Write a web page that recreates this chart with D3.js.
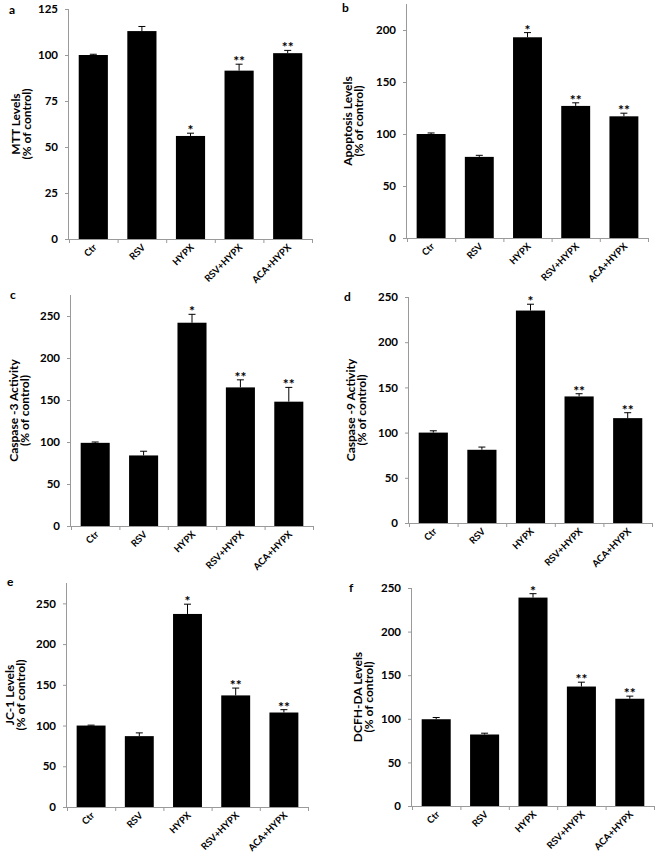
<!DOCTYPE html>
<html>
<head>
<meta charset="utf-8">
<script src="https://cdn.jsdelivr.net/npm/d3@7"></script>
<style>
  body { margin: 0; background: #fff; }
  svg text { font-family: Lato, "Open Sans", sans-serif; font-weight: bold; }
</style>
</head>
<body>
<div id="chart"></div>
<script>
// groups on the x axis, same for all six panels
let categories = ["Ctr", "RSV", "HYPX", "RSV+HYPX", "ACA+HYPX"]
let sigMarks = ["", "", "*", "**", "**"]

// a - MTT
let mttMean = [100, 113, 56, 91.5, 101]
let mttErr = [0.4, 2.5, 1.5, 3.5, 1.5]
// b - apoptosis
let apoMean = [100, 78, 193, 127, 117]
let apoErr = [1, 1.5, 4.5, 3, 3]
// c - caspase-3
let casp3Mean = [99, 84, 242, 165, 148]
let casp3Err = [1, 5, 10, 9, 17]
// d - caspase-9
let casp9Mean = [100, 81, 235, 140, 116]
let casp9Err = [2, 3, 7, 3, 6]
// e - JC-1
let jc1Mean = [100, 87, 237, 137, 116]
let jc1Err = [0.5, 4, 12, 9, 3.5]
// f - DCFH-DA
let dcfhMean = [99.5, 82, 239, 137, 123]
let dcfhErr = [2, 1.5, 4.5, 5, 3]

// y axes
let mttTicks = [0, 25, 50, 75, 100, 125]
let apoTicks = [0, 50, 100, 150, 200]
let casTicks = [0, 50, 100, 150, 200, 250]

let width = 655
let height = 853

let svg = d3.select("#chart")
  .append("svg")
  .attr("width", width)
  .attr("height", height)

// panel layout: axis box in pixels
let panels = [
  {letter: "a", mean: mttMean, err: mttErr, yMax: 125, ticks: mttTicks, label: "MTT  Levels",
   left: 69, right: 312, top: 9, bottom: 239, lx: 9, ly: 14, off: 54},
  {letter: "b", mean: apoMean, err: apoErr, yMax: 225, ticks: apoTicks, label: "Apoptosis  Levels",
   left: 407, right: 648, top: 4, bottom: 238, lx: 342, ly: 12, off: 60},
  {letter: "c", mean: casp3Mean, err: casp3Err, yMax: 275, ticks: casTicks, label: "Caspase -3 Activity",
   left: 71, right: 313, top: 295, bottom: 526, lx: 10, ly: 299, off: 58},
  {letter: "d", mean: casp9Mean, err: casp9Err, yMax: 250, ticks: casTicks, label: "Caspase -9 Activity",
   left: 409, right: 652, top: 297, bottom: 523, lx: 344, ly: 301, off: 59},
  {letter: "e", mean: jc1Mean, err: jc1Err, yMax: 275, ticks: casTicks, label: "JC-1 Levels",
   left: 67, right: 308, top: 583, bottom: 807, lx: 7, ly: 586, off: 58},
  {letter: "f", mean: dcfhMean, err: dcfhErr, yMax: 250, ticks: casTicks, label: "DCFH-DA  Levels",
   left: 412, right: 654, top: 588, bottom: 806, lx: 349, ly: 592, off: 55}
]

panels.forEach(p => {
  let g = svg.append("g")

  let xScale = d3.scaleBand()
                 .domain(categories)
                 .range([p.left, p.right])
                 .paddingInner(0.4)
                 .paddingOuter(0.2)

  let yScale = d3.scaleLinear()
                 .domain([0, p.yMax])
                 .range([p.bottom, p.top])

  // boundary ticks for the x axis
  let edgeScale = d3.scaleLinear()
                    .domain([0, categories.length])
                    .range([p.left, p.right])

  let rows = categories.map((c, i) => ({cat: c, v: p.mean[i], e: p.err[i], s: sigMarks[i]}))
  let mid = d => xScale(d.cat) + xScale.bandwidth() / 2

  // bars
  g.selectAll("rect.bar")
    .data(rows)
    .enter()
    .append("rect")
    .attr("class", "bar")
    .attr("x", d => xScale(d.cat))
    .attr("y", d => yScale(d.v))
    .attr("width", xScale.bandwidth())
    .attr("height", d => yScale(0) - yScale(d.v))
    .attr("fill", "#000")

  // error bars (upper half)
  g.selectAll("line.err")
    .data(rows)
    .enter()
    .append("line")
    .attr("x1", mid)
    .attr("x2", mid)
    .attr("y1", d => yScale(d.v))
    .attr("y2", d => yScale(d.v + d.e))
    .attr("stroke", "#000")
    .attr("stroke-width", 1)

  g.selectAll("line.cap")
    .data(rows)
    .enter()
    .append("line")
    .attr("x1", d => mid(d) - 3.5)
    .attr("x2", d => mid(d) + 3.5)
    .attr("y1", d => yScale(d.v + d.e))
    .attr("y2", d => yScale(d.v + d.e))
    .attr("stroke", "#000")
    .attr("stroke-width", 1)

  // significance stars
  g.selectAll("text.sig")
    .data(rows.filter(d => d.s))
    .enter()
    .append("text")
    .attr("x", mid)
    .attr("y", d => yScale(d.v + d.e) + 2)
    .attr("text-anchor", "middle")
    .attr("font-size", 14)
    .text(d => d.s)

  // y axis
  let yAxis = d3.axisLeft(yScale)
                .tickValues(p.ticks)
                .tickSize(4)
                .tickPadding(7)
  let ya = g.append("g")
    .attr("transform", `translate(${p.left},0)`)
    .call(yAxis)
  ya.select(".domain").attr("d", `M-0.5,${p.top}V${p.bottom}`)

  // x axis: ticks at group boundaries, labels at centres
  let xEdge = d3.axisBottom(edgeScale)
                .ticks(categories.length)
                .tickSize(4)
                .tickFormat("")
  g.append("g")
    .attr("transform", `translate(0,${p.bottom})`)
    .call(xEdge)

  let xAxis = d3.axisBottom(xScale).tickSize(0).tickPadding(0)
  let xa = g.append("g")
    .attr("transform", `translate(0,${p.bottom})`)
    .call(xAxis)
  xa.select(".domain").remove()
  xa.selectAll("text")
    .attr("font-size", 9.5)
    .attr("text-anchor", "end")
    .attr("dy", 0)
    .attr("transform", "translate(4,9) rotate(-45)")

  g.selectAll(".domain, .tick line")
    .attr("stroke", "#9a9a9a")
  ya.selectAll("text")
    .attr("font-size", 11.5)
    .attr("fill", "#000")

  // y label, two lines
  let cy = (p.top + p.bottom) / 2
  g.append("text")
    .attr("transform", `translate(${p.left - p.off},${cy}) rotate(-90)`)
    .attr("text-anchor", "middle")
    .attr("dominant-baseline", "central")
    .attr("font-size", 12)
    .text(p.label)
  g.append("text")
    .attr("transform", `translate(${p.left - p.off + 11},${cy}) rotate(-90)`)
    .attr("text-anchor", "middle")
    .attr("dominant-baseline", "central")
    .attr("font-size", 12)
    .text("(% of control)")

  // panel letter
  g.append("text")
    .attr("x", p.lx)
    .attr("y", p.ly)
    .attr("font-size", 12)
    .text(p.letter)
})
</script>
</body>
</html>
